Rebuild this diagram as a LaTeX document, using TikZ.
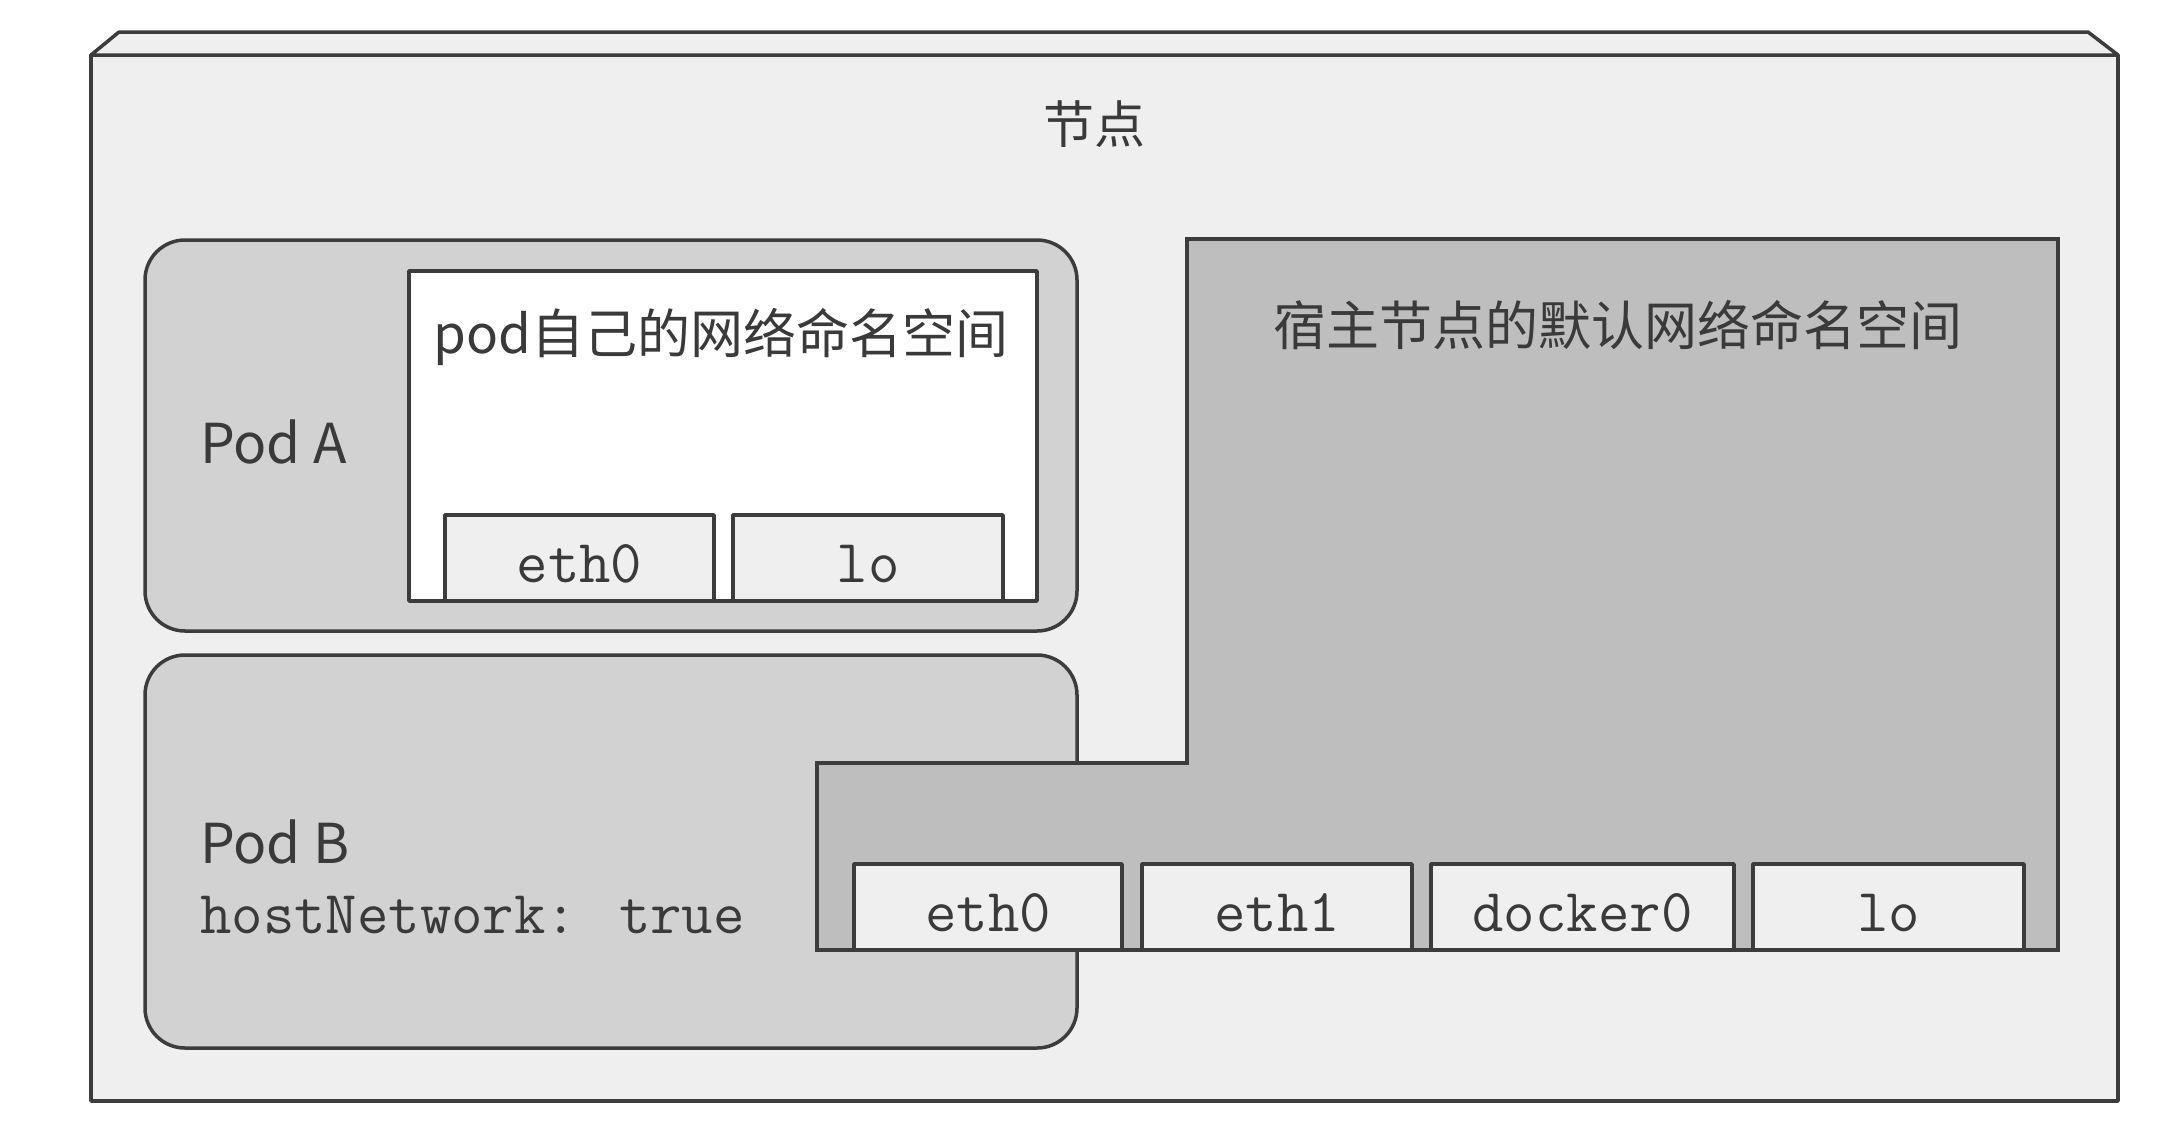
\documentclass[tikz,border=0pt]{standalone}
\usepackage{fontspec}
\setmainfont{Noto Sans CJK SC}
\newfontfamily\cjk{Noto Sans CJK SC}
\definecolor{outerc}{HTML}{EFEFEF}
\definecolor{podc}{HTML}{D2D2D2}
\definecolor{hostc}{HTML}{BFBEBF}
\definecolor{ifacec}{HTML}{EFEFEF}
\definecolor{linec}{HTML}{3C3C3C}
\definecolor{textc}{HTML}{3A3A3A}
\begin{document}
\begin{tikzpicture}[x=1pt,y=-1pt,
  edge/.style={draw=linec, line width=3.5pt, line join=round},
  boxnode/.style={edge, inner sep=0pt, outer sep=0pt, anchor=north west},
  podbox/.style={boxnode, fill=podc, rounded corners=40pt},
  ifbox/.style={boxnode, fill=ifacec, minimum height=86pt},
  cjklbl/.style={text=textc, inner sep=0pt, font=\cjk\fontsize{53}{60}\selectfont},
  latlbl/.style={text=textc, inner sep=0pt, font=\cjk\fontsize{55}{62}\selectfont},
  monolbl/.style={text=textc, inner sep=0pt, font=\ttfamily\fontsize{61}{66}\selectfont}
]
\useasboundingbox[fill=white] (0,0) rectangle (2166,1136);
% outer node box with top face
\node[boxnode, fill=outerc, minimum width=2027pt, minimum height=1046pt] (node) at (91,55) {};
\draw[edge, fill=outerc] (node.north west) -- (119,32) -- (2088,32) -- (node.north east) -- cycle;
\node[cjklbl, anchor=base, font=\cjk\fontsize{51}{60}\selectfont] (nodelbl) at (1094,143) {节点};
% Pod A
\node[podbox, minimum width=932pt, minimum height=391pt] (podA) at (145,240) {};
\node[latlbl, anchor=base west] (podAlbl) at (200,463) {Pod A};
\node[boxnode, fill=white, minimum width=628pt, minimum height=330pt] (nsA) at (409,271) {};
\node[cjklbl, anchor=base] (nsAlbl) at (721,353) {pod自己的网络命名空间};
\node[ifbox, minimum width=269pt, anchor=south west] (aeth0) at (445,601) {};
\node[ifbox, minimum width=270pt, anchor=south west] (alo) at (733,601) {};
\node[monolbl] at ([yshift=-6pt]aeth0.center) {eth0};
\node[monolbl] at ([yshift=-6pt]alo.center) {lo};
% Pod B
\node[podbox, minimum width=932pt, minimum height=393pt] (podB) at (145,655) {};
\node[latlbl, anchor=base west] (podBlbl) at (200,863) {Pod B};
\node[monolbl, anchor=base west] (hostnet) at (200,933) {hostNetwork: true};
% host default namespace
\coordinate (h1) at (1187,239);
\coordinate (h2) at (2058,239);
\coordinate (h3) at (2058,950);
\coordinate (h4) at (817,950);
\coordinate (h5) at (817,763);
\coordinate (h6) at (1187,763);
\draw[edge, fill=hostc, line join=miter] (h1) -- (h2) -- (h3) -- (h4) -- (h5) -- (h6) -- cycle;
\node[cjklbl, anchor=base] (hostlbl) at (1618,345) {宿主节点的默认网络命名空间};
\node[ifbox, minimum width=268pt, anchor=south west] (heth0) at (854,950) {};
\node[ifbox, minimum width=270pt, anchor=south west] (heth1) at (1142,950) {};
\node[ifbox, minimum width=303pt, anchor=south west] (hdock) at (1431,950) {};
\node[ifbox, minimum width=271pt, anchor=south west] (hlo) at (1753,950) {};
\node[monolbl] at ([yshift=-6pt]heth0.center) {eth0};
\node[monolbl] at ([yshift=-6pt]heth1.center) {eth1};
\node[monolbl] at ([yshift=-6pt]hdock.center) {docker0};
\node[monolbl] at ([yshift=-6pt]hlo.center) {lo};
\end{tikzpicture}
\end{document}
